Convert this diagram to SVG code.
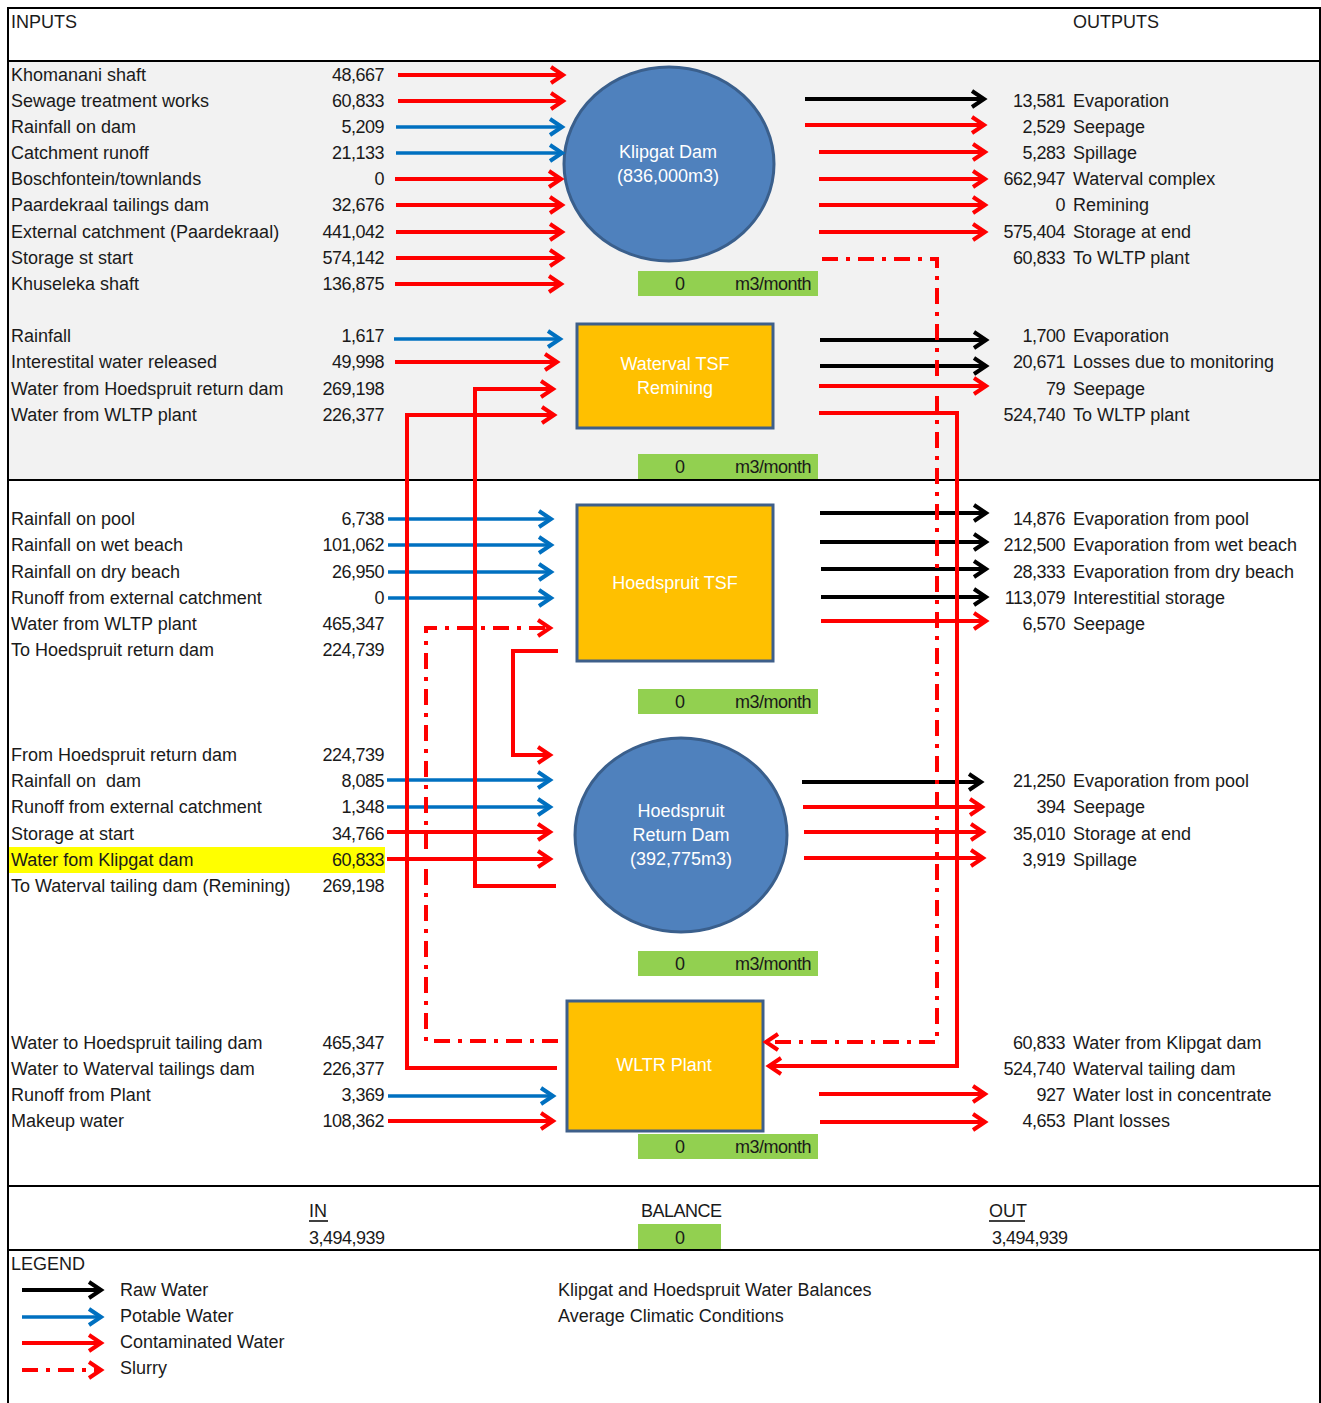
<svg xmlns="http://www.w3.org/2000/svg" width="1321" height="1403" viewBox="0 0 1321 1403">
  <style>
    text { font-family: "Liberation Sans", Arial, sans-serif; font-size: 18px; fill: #1a1a1a; }
    .n { text-anchor: end; letter-spacing: -0.5px; }
    .c { text-anchor: middle; }
    .w { fill: #ffffff; text-anchor: middle; }
    .t { letter-spacing: -0.5px; }
    .frame { stroke: #000; stroke-width: 2; fill: none; }
    .dam { fill: #4f81bd; stroke: #3a5f8c; stroke-width: 3; }
    .tsf { fill: #ffc000; stroke: #3e5f8a; stroke-width: 3; }
    .bal { fill: #92d050; }
    .r { stroke: #ff0000; stroke-width: 4; fill: none; marker-end: url(#ar); }
    .b { stroke: #0070c0; stroke-width: 3.5; fill: none; marker-end: url(#ab); }
    .k { stroke: #000000; stroke-width: 4; fill: none; marker-end: url(#ak); }
    .s { stroke-dasharray: 16 8 4 8; }
  </style>
  <defs>
    <marker id="ar" viewBox="0 0 16 20" refX="13" refY="10" markerWidth="16" markerHeight="20" markerUnits="userSpaceOnUse" orient="auto" overflow="visible">
      <path d="M1,2 L13,10 L1,18" fill="none" stroke="#ff0000" stroke-width="4"/>
    </marker>
    <marker id="ab" viewBox="0 0 16 20" refX="13" refY="10" markerWidth="16" markerHeight="20" markerUnits="userSpaceOnUse" orient="auto" overflow="visible">
      <path d="M1,2 L13,10 L1,18" fill="none" stroke="#0070c0" stroke-width="4"/>
    </marker>
    <marker id="ak" viewBox="0 0 16 20" refX="13" refY="10" markerWidth="16" markerHeight="20" markerUnits="userSpaceOnUse" orient="auto" overflow="visible">
      <path d="M1,2 L13,10 L1,18" fill="none" stroke="#000000" stroke-width="4"/>
    </marker>
  </defs>

  <!-- sheet background and frame -->
  <rect x="0" y="0" width="1321" height="1403" fill="#ffffff"/>
  <rect x="8" y="61" width="1312" height="419" fill="#f2f2f2"/>
  <rect x="9" y="847" width="376" height="26" fill="#ffff00"/>
  <path class="frame" d="M8,1403 V8 H1320 V1403"/>
  <line class="frame" x1="8" y1="61" x2="1320" y2="61"/>
  <line class="frame" x1="8" y1="480" x2="1320" y2="480"/>
  <line class="frame" x1="8" y1="1186" x2="1320" y2="1186"/>
  <line class="frame" x1="8" y1="1250" x2="1320" y2="1250"/>

  <text x="11" y="28">INPUTS</text>
  <text x="1073" y="28">OUTPUTS</text>

  <!-- input labels and values -->
  <g id="inputs">
    <text x="11" y="81">Khomanani shaft</text><text class="n" x="384" y="81">48,667</text>
    <text x="11" y="107">Sewage treatment works</text><text class="n" x="384" y="107">60,833</text>
    <text x="11" y="133">Rainfall on dam</text><text class="n" x="384" y="133">5,209</text>
    <text x="11" y="159">Catchment runoff</text><text class="n" x="384" y="159">21,133</text>
    <text x="11" y="185">Boschfontein/townlands</text><text class="n" x="384" y="185">0</text>
    <text x="11" y="211">Paardekraal tailings dam</text><text class="n" x="384" y="211">32,676</text>
    <text x="11" y="238">External catchment (Paardekraal)</text><text class="n" x="384" y="238">441,042</text>
    <text x="11" y="264">Storage st start</text><text class="n" x="384" y="264">574,142</text>
    <text x="11" y="290">Khuseleka shaft</text><text class="n" x="384" y="290">136,875</text>

    <text x="11" y="342">Rainfall</text><text class="n" x="384" y="342">1,617</text>
    <text x="11" y="368">Interestital water released</text><text class="n" x="384" y="368">49,998</text>
    <text x="11" y="395">Water from Hoedspruit return dam</text><text class="n" x="384" y="395">269,198</text>
    <text x="11" y="421">Water from WLTP plant</text><text class="n" x="384" y="421">226,377</text>

    <text x="11" y="525">Rainfall on pool</text><text class="n" x="384" y="525">6,738</text>
    <text x="11" y="551">Rainfall on wet beach</text><text class="n" x="384" y="551">101,062</text>
    <text x="11" y="578">Rainfall on dry beach</text><text class="n" x="384" y="578">26,950</text>
    <text x="11" y="604">Runoff from external catchment</text><text class="n" x="384" y="604">0</text>
    <text x="11" y="630">Water from WLTP plant</text><text class="n" x="384" y="630">465,347</text>
    <text x="11" y="656">To Hoedspruit return dam</text><text class="n" x="384" y="656">224,739</text>

    <text x="11" y="761">From Hoedspruit return dam</text><text class="n" x="384" y="761">224,739</text>
    <text x="11" y="787" xml:space="preserve">Rainfall on  dam</text><text class="n" x="384" y="787">8,085</text>
    <text x="11" y="813">Runoff from external catchment</text><text class="n" x="384" y="813">1,348</text>
    <text x="11" y="840">Storage at start</text><text class="n" x="384" y="840">34,766</text>
    <text x="11" y="866">Water fom Klipgat dam</text><text class="n" x="384" y="866">60,833</text>
    <text x="11" y="892">To Waterval tailing dam (Remining)</text><text class="n" x="384" y="892">269,198</text>

    <text x="11" y="1049">Water to Hoedspruit tailing dam</text><text class="n" x="384" y="1049">465,347</text>
    <text x="11" y="1075">Water to Waterval tailings dam</text><text class="n" x="384" y="1075">226,377</text>
    <text x="11" y="1101">Runoff from Plant</text><text class="n" x="384" y="1101">3,369</text>
    <text x="11" y="1127">Makeup water</text><text class="n" x="384" y="1127">108,362</text>
  </g>

  <!-- output values and labels -->
  <g id="outputs">
    <text class="n" x="1065" y="107">13,581</text><text x="1073" y="107">Evaporation</text>
    <text class="n" x="1065" y="133">2,529</text><text x="1073" y="133">Seepage</text>
    <text class="n" x="1065" y="159">5,283</text><text x="1073" y="159">Spillage</text>
    <text class="n" x="1065" y="185">662,947</text><text x="1073" y="185">Waterval complex</text>
    <text class="n" x="1065" y="211">0</text><text x="1073" y="211">Remining</text>
    <text class="n" x="1065" y="238">575,404</text><text x="1073" y="238">Storage at end</text>
    <text class="n" x="1065" y="264">60,833</text><text x="1073" y="264">To WLTP plant</text>

    <text class="n" x="1065" y="342">1,700</text><text x="1073" y="342">Evaporation</text>
    <text class="n" x="1065" y="368">20,671</text><text x="1073" y="368">Losses due to monitoring</text>
    <text class="n" x="1065" y="395">79</text><text x="1073" y="395">Seepage</text>
    <text class="n" x="1065" y="421">524,740</text><text x="1073" y="421">To WLTP plant</text>

    <text class="n" x="1065" y="525">14,876</text><text x="1073" y="525">Evaporation from pool</text>
    <text class="n" x="1065" y="551">212,500</text><text x="1073" y="551">Evaporation from wet beach</text>
    <text class="n" x="1065" y="578">28,333</text><text x="1073" y="578">Evaporation from dry beach</text>
    <text class="n" x="1065" y="604">113,079</text><text x="1073" y="604">Interestitial storage</text>
    <text class="n" x="1065" y="630">6,570</text><text x="1073" y="630">Seepage</text>

    <text class="n" x="1065" y="787">21,250</text><text x="1073" y="787">Evaporation from pool</text>
    <text class="n" x="1065" y="813">394</text><text x="1073" y="813">Seepage</text>
    <text class="n" x="1065" y="840">35,010</text><text x="1073" y="840">Storage at end</text>
    <text class="n" x="1065" y="866">3,919</text><text x="1073" y="866">Spillage</text>

    <text class="n" x="1065" y="1049">60,833</text><text x="1073" y="1049">Water from Klipgat dam</text>
    <text class="n" x="1065" y="1075">524,740</text><text x="1073" y="1075">Waterval tailing dam</text>
    <text class="n" x="1065" y="1101">927</text><text x="1073" y="1101">Water lost in concentrate</text>
    <text class="n" x="1065" y="1127">4,653</text><text x="1073" y="1127">Plant losses</text>
  </g>

  <!-- storage / process nodes -->
  <g id="klipgat-dam">
    <ellipse class="dam" cx="669" cy="164" rx="105" ry="97"/>
    <text class="w" x="668" y="158">Klipgat Dam</text>
    <text class="w" x="668" y="182">(836,000m3)</text>
    <rect class="bal" x="638" y="271" width="180" height="25"/>
    <text class="c" x="680" y="290">0</text><text class="n" x="811" y="290">m3/month</text>
  </g>
  <g id="waterval-tsf">
    <rect class="tsf" x="577" y="324" width="196" height="104"/>
    <text class="w" x="675" y="370">Waterval TSF</text>
    <text class="w" x="675" y="394">Remining</text>
    <rect class="bal" x="638" y="454" width="180" height="25"/>
    <text class="c" x="680" y="473">0</text><text class="n" x="811" y="473">m3/month</text>
  </g>
  <g id="hoedspruit-tsf">
    <rect class="tsf" x="577" y="505" width="196" height="156"/>
    <text class="w" x="675" y="589">Hoedspruit TSF</text>
    <rect class="bal" x="638" y="689" width="180" height="25"/>
    <text class="c" x="680" y="708">0</text><text class="n" x="811" y="708">m3/month</text>
  </g>
  <g id="hoedspruit-return-dam">
    <ellipse class="dam" cx="681" cy="835" rx="106" ry="97"/>
    <text class="w" x="681" y="817">Hoedspruit</text>
    <text class="w" x="681" y="841">Return Dam</text>
    <text class="w" x="681" y="865">(392,775m3)</text>
    <rect class="bal" x="638" y="951" width="180" height="25"/>
    <text class="c" x="680" y="970">0</text><text class="n" x="811" y="970">m3/month</text>
  </g>
  <g id="wltr-plant">
    <rect class="tsf" x="567" y="1001" width="196" height="130"/>
    <text class="w" x="664" y="1071">WLTR Plant</text>
    <rect class="bal" x="638" y="1134" width="180" height="25"/>
    <text class="c" x="680" y="1153">0</text><text class="n" x="811" y="1153">m3/month</text>
  </g>

  <!-- flow connectors -->
  <g id="connectors">
    <!-- Klipgat inputs -->
    <line class="r" x1="398" y1="75" x2="563" y2="75"/>
    <line class="r" x1="398" y1="101" x2="563" y2="101"/>
    <line class="b" x1="396" y1="127" x2="562" y2="127"/>
    <line class="b" x1="396" y1="153" x2="562" y2="153"/>
    <line class="r" x1="395" y1="179" x2="561" y2="179"/>
    <line class="r" x1="396" y1="205" x2="562" y2="205"/>
    <line class="r" x1="396" y1="232" x2="562" y2="232"/>
    <line class="r" x1="396" y1="258" x2="562" y2="258"/>
    <line class="r" x1="395" y1="284" x2="561" y2="284"/>
    <!-- Klipgat outputs -->
    <line class="k" x1="805" y1="99" x2="984" y2="99"/>
    <line class="r" x1="805" y1="125" x2="984" y2="125"/>
    <line class="r" x1="819" y1="152" x2="985" y2="152"/>
    <line class="r" x1="819" y1="179" x2="985" y2="179"/>
    <line class="r" x1="819" y1="205" x2="985" y2="205"/>
    <line class="r" x1="819" y1="232" x2="985" y2="232"/>

    <!-- Waterval TSF inputs -->
    <line class="b" x1="394" y1="339" x2="560" y2="339"/>
    <line class="r" x1="395" y1="362" x2="557" y2="362"/>
    <!-- Waterval TSF outputs -->
    <line class="k" x1="820" y1="340" x2="986" y2="340"/>
    <line class="k" x1="820" y1="366" x2="986" y2="366"/>
    <line class="r" x1="819" y1="386" x2="986" y2="386"/>

    <!-- Hoedspruit TSF inputs -->
    <line class="b" x1="388" y1="519" x2="551" y2="519"/>
    <line class="b" x1="388" y1="545" x2="551" y2="545"/>
    <line class="b" x1="388" y1="572" x2="551" y2="572"/>
    <line class="b" x1="388" y1="598" x2="551" y2="598"/>
    <!-- Hoedspruit TSF outputs -->
    <line class="k" x1="820" y1="513" x2="986" y2="513"/>
    <line class="k" x1="820" y1="542" x2="986" y2="542"/>
    <line class="k" x1="821" y1="569" x2="986" y2="569"/>
    <line class="k" x1="821" y1="597" x2="986" y2="597"/>
    <line class="r" x1="821" y1="621" x2="986" y2="621"/>

    <!-- Return dam inputs -->
    <line class="b" x1="387" y1="780" x2="550" y2="780"/>
    <line class="b" x1="387" y1="807" x2="550" y2="807"/>
    <line class="r" x1="387" y1="832" x2="550" y2="832"/>
    <line class="r" x1="387" y1="859" x2="550" y2="859"/>
    <!-- Return dam outputs -->
    <line class="k" x1="802" y1="782" x2="981" y2="782"/>
    <line class="r" x1="803" y1="807" x2="982" y2="807"/>
    <line class="r" x1="804" y1="832" x2="983" y2="832"/>
    <line class="r" x1="804" y1="858" x2="983" y2="858"/>

    <!-- WLTR plant inputs / outputs -->
    <line class="b" x1="388" y1="1096" x2="553" y2="1096"/>
    <line class="r" x1="388" y1="1121" x2="553" y2="1121"/>
    <line class="r" x1="819" y1="1094" x2="985" y2="1094"/>
    <line class="r" x1="820" y1="1122" x2="985" y2="1122"/>

    <!-- routed transfers between nodes -->
    <path class="r s" d="M822,259 H937 V1042 H766"/>
    <path class="r" d="M819,413 H957 V1066 H769"/>
    <path class="r s" d="M558,1041 H426 V628 H550"/>
    <path class="r" d="M557,1068 H407 V415 H554"/>
    <path class="r" d="M556,886 H475 V389 H553"/>
    <path class="r" d="M558,651 H513 V755 H550"/>
  </g>

  <!-- balance totals -->
  <g id="totals">
    <text x="309" y="1217">IN</text>
    <line x1="309" y1="1221" x2="328" y2="1221" stroke="#000" stroke-width="1.5"/>
    <text class="t" x="309" y="1244">3,494,939</text>
    <text class="t" x="641" y="1217">BALANCE</text>
    <rect class="bal" x="638" y="1224" width="83" height="25"/>
    <text class="c" x="680" y="1244">0</text>
    <text x="989" y="1217">OUT</text>
    <line x1="989" y1="1221" x2="1025" y2="1221" stroke="#000" stroke-width="1.5"/>
    <text class="t" x="992" y="1244">3,494,939</text>
  </g>

  <!-- legend -->
  <g id="legend">
    <text x="11" y="1270">LEGEND</text>
    <line class="k" x1="22" y1="1290" x2="101" y2="1290"/>
    <line class="b" x1="22" y1="1317" x2="101" y2="1317"/>
    <line class="r" x1="22" y1="1343" x2="101" y2="1343"/>
    <line class="r s" x1="22" y1="1370" x2="101" y2="1370"/>
    <text x="120" y="1296">Raw Water</text>
    <text x="120" y="1322">Potable Water</text>
    <text x="120" y="1348">Contaminated Water</text>
    <text x="120" y="1374">Slurry</text>
    <text x="558" y="1296">Klipgat and Hoedspruit Water Balances</text>
    <text x="558" y="1322">Average Climatic Conditions</text>
  </g>
</svg>
